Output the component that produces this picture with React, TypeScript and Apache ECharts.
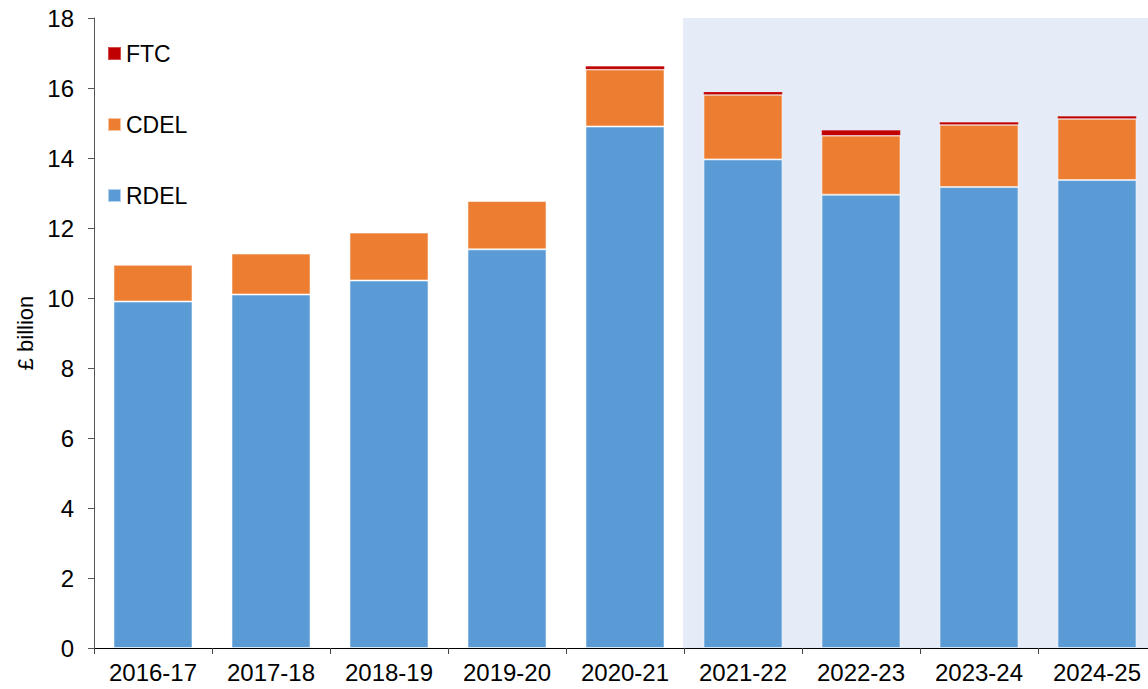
import React, { useEffect, useRef } from "react";
import * as echarts from "echarts";

const categories = ["2016-17", "2017-18", "2018-19", "2019-20", "2020-21", "2021-22", "2022-23", "2023-24", "2024-25"];
const rdel = [9.9, 10.1, 10.5, 11.39, 14.9, 13.96, 12.95, 13.17, 13.37];
const cdel = [1.05, 1.17, 1.37, 1.38, 1.63, 1.85, 1.69, 1.78, 1.75];
const ftc = [-0.03, -0.01, -0.05, -0.04, 0.1, 0.08, 0.16, 0.08, 0.08];
const plans = [null, null, null, null, null, 18, 18, 18, 18];
const yTicks = { min: 0, max: 18, interval: 2 };

export default function App() {
  const ref = useRef<HTMLDivElement>(null);
  useEffect(() => {
    document.body.style.margin = "0";
    document.body.style.overflow = "hidden";
    document.documentElement.style.overflow = "hidden";
    const chart = echarts.init(ref.current!, null, { renderer: "svg" });
    const font = "Liberation Sans, Arial, sans-serif";
    const border = { borderColor: "rgba(255,255,255,0.55)", borderWidth: 1 };
    chart.setOption({
      animation: false,
      textStyle: { fontFamily: font },
      grid: { left: 94, right: 0, top: 18, bottom: 41 },
      legend: {
        orient: "vertical",
        left: 102,
        top: 37,
        itemWidth: 13,
        itemHeight: 13,
        itemGap: 48,
        icon: "rect",
        textStyle: { fontSize: 23, color: "#000", fontFamily: font },
        data: ["FTC", "CDEL", "RDEL"],
      },
      xAxis: [
        {
          type: "category",
          data: categories,
          axisLine: { lineStyle: { color: "#000", width: 1 } },
          axisTick: { show: true, length: 6, lineStyle: { color: "#444" } },
          axisLabel: { fontSize: 24, color: "#000", margin: 12 },
        },
        {
          type: "category",
          data: categories,
          show: false,
          position: "bottom",
        },
      ],
      yAxis: {
        type: "value",
        ...yTicks,
        name: "£ billion",
        nameLocation: "middle",
        nameGap: 58,
        nameTextStyle: { fontSize: 22, color: "#000" },
        axisLine: { show: true, lineStyle: { color: "#555" } },
        axisTick: { show: true, length: 6, lineStyle: { color: "#555" } },
        axisLabel: { fontSize: 24, color: "#000", margin: 20 },
        splitLine: { show: false },
      },
      series: [
        {
          name: "Plans",
          type: "bar",
          xAxisIndex: 1,
          data: plans,
          barWidth: "101.5%",
          itemStyle: { color: "#E6ECF7" },
          z: 0,
          silent: true,
        },
        {
          name: "RDEL",
          type: "bar",
          stack: "t",
          data: rdel,
          barWidth: "67%",
          itemStyle: { color: "#5B9BD5", ...border },
          z: 2,
        },
        {
          name: "CDEL",
          type: "bar",
          stack: "t",
          data: cdel,
          barWidth: "67%",
          itemStyle: { color: "#ED7D31", ...border },
          z: 2,
        },
        {
          name: "FTC",
          type: "bar",
          stack: "t",
          data: ftc,
          barWidth: "67%",
          itemStyle: { color: "#C00000", borderColor: "rgba(255,255,255,0.3)", borderWidth: 0.5 },
          z: 2,
        },
      ],
      graphic: [
        {
          type: "text",
          left: 858,
          top: 66,
          style: { text: "Plans", fontSize: 22, fill: "#000", fontFamily: font },
        },
      ],
    });
    return () => chart.dispose();
  }, []);
  return <div ref={ref} style={{ width: 1156, height: 689 }} />;
}
